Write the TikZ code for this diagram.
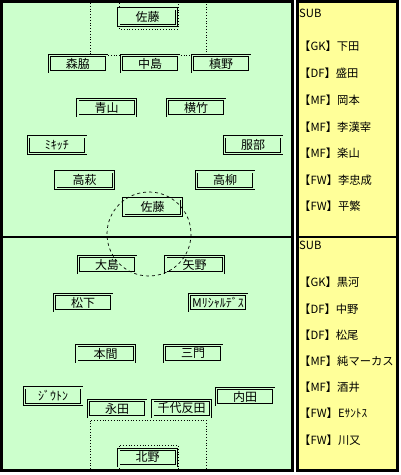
\documentclass[tikz,border=0pt]{standalone}
\usepackage{fontspec}
\setmainfont{Noto Sans CJK JP}
\usepackage{xcolor}
\usepackage{tikz}
\definecolor{pitchgreen}{HTML}{CCFFCC}
\definecolor{subyellow}{HTML}{FFFF99}

\begin{document}
\begin{tikzpicture}[x=1pt, y=-1pt,
  pbox/.style={draw, line width=0.7pt, double=pitchgreen, double distance=1.5pt,
               fill=pitchgreen, minimum width=57.5pt, minimum height=16.5pt,
               inner sep=0pt, font=\fontsize{12}{14}\selectfont},
  stxt/.style={anchor=west, inner sep=0pt, font=\fontsize{11.3}{14}\selectfont},
  frame/.style={line width=2.6pt},
  area/.style={dotted, line width=0.8pt}
]
\useasboundingbox[fill=white] (0,0) rectangle (401,475);

% pitch halves and bench panels
\draw[frame, fill=pitchgreen] (1.5,1.5) rectangle (292.5,237);
\draw[frame, fill=pitchgreen] (1.5,237) rectangle (292.5,470.5);
\draw[frame, fill=subyellow] (297.5,1.5) rectangle (397.5,237);
\draw[frame, fill=subyellow] (297.5,237) rectangle (397.5,470.5);

% penalty and goal areas
\draw[area] (90,3) -- (90,55) -- (206,55) -- (206,3);
\draw[area] (119,3) -- (119,29) -- (178,29) -- (178,3);
\draw[area] (90,469) -- (90,420) -- (206,420) -- (206,469);
\draw[area] (119,469) -- (119,445) -- (178,445) -- (178,469);

% upper team
\node[pbox] (gkU) at (147.5,17) {佐藤};
\node[pbox] (dfUl) at (78,63.5) {森脇};
\node[pbox] (dfUc) at (150,63.5) {中島};
\node[pbox] (dfUr) at (221,63.5) {槙野};
\node[pbox] (mfUl) at (106.5,107.5) {青山};
\node[pbox] (mfUr) at (196,107.5) {横竹};
\node[pbox] (wgUl) at (57,145) {ﾐｷｯﾁ};
\node[pbox] (wgUr) at (253,145) {服部};
\node[pbox] (amUl) at (84.5,180) {高萩};
\node[pbox] (amUr) at (225,180) {高柳};
\node[pbox] (fwU) at (152.5,207) {佐藤};

% lower team
\node[pbox] (fwLl) at (107,264.5) {大島};
\node[pbox] (fwLr) at (194.5,264.5) {矢野};
\node[pbox] (amLl) at (83,302.5) {松下};
\node[pbox] (amLr) at (218,302.5) {Mﾘｼｬﾙﾃﾞｽ};
\node[pbox] (mfLl) at (105.5,353.5) {本間};
\node[pbox] (mfLr) at (193,353.5) {三門};
\node[pbox] (wbLl) at (53,396) {ｼﾞｳﾄﾝ};
\node[pbox] (wbLr) at (245,396.5) {内田};
\node[pbox] (dfLl) at (117,408.5) {永田};
\node[pbox] (dfLr) at (181.5,408.5) {千代反田};
\node[pbox] (gkL) at (147.5,457.5) {北野};

% centre circle
\draw[dashed, line width=0.7pt] (149,234) circle[radius=42];

% substitutes
\node[stxt] (subU) at (299,13) {SUB};
\node[stxt] (subU1) at (299,46) {【GK】下田};
\node[stxt] (subU2) at (299,73) {【DF】盛田};
\node[stxt] (subU3) at (299,100) {【MF】岡本};
\node[stxt] (subU4) at (299,127) {【MF】李漢宰};
\node[stxt] (subU5) at (299,153) {【MF】楽山};
\node[stxt] (subU6) at (299,180) {【FW】李忠成};
\node[stxt] (subU7) at (299,206) {【FW】平繁};

\node[stxt] (subL) at (299,245) {SUB};
\node[stxt] (subL1) at (299,282) {【GK】黒河};
\node[stxt] (subL2) at (299,309) {【DF】中野};
\node[stxt] (subL3) at (299,335) {【DF】松尾};
\node[stxt] (subL4) at (299,361) {【MF】純マーカス};
\node[stxt] (subL5) at (299,387) {【MF】酒井};
\node[stxt] (subL6) at (299,413) {【FW】Eｻﾝﾄｽ};
\node[stxt] (subL7) at (299,440) {【FW】川又};
\end{tikzpicture}
\end{document}
